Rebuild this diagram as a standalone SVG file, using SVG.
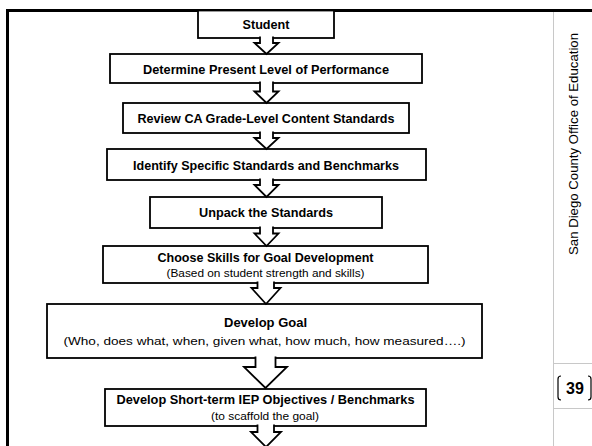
<svg xmlns="http://www.w3.org/2000/svg" width="592" height="446" viewBox="0 0 592 446">
<style>
.box{fill:#fff;stroke:#000;stroke-width:1.8}
.arr{fill:#fff;stroke:#000;stroke-width:1.8;stroke-linejoin:miter}
.b{font-family:"Liberation Sans",Arial,sans-serif;font-weight:bold;font-size:12.75px;text-anchor:middle;fill:#000}
.r{font-family:"Liberation Sans",Arial,sans-serif;font-size:11.8px;text-anchor:middle;fill:#000}
.gray{stroke:#c8c8c8;stroke-width:1;fill:none}
</style>
<rect x="0" y="0" width="592" height="446" fill="#fff"/>
<g id="frame">
<line class="gray" x1="553.5" y1="11" x2="553.5" y2="446"/>
<line class="gray" x1="553" y1="363.5" x2="592" y2="363.5"/>
<line class="gray" x1="553" y1="408.5" x2="592" y2="408.5"/>
<line x1="7.5" y1="9" x2="7.5" y2="446" stroke="#000" stroke-width="3"/>
<line x1="6" y1="10.5" x2="592" y2="10.5" stroke="#000" stroke-width="2.8"/>
</g>
<g id="side-label">
<text transform="translate(578,144) rotate(-90)" font-family="Liberation Sans,Arial,sans-serif" font-size="13" text-anchor="middle" textLength="222" lengthAdjust="spacingAndGlyphs">San Diego County Office of Education</text>
</g>
<g id="page-number">
<path d="M561,376 Q558,376 558,379 V397 Q558,400 561,400" fill="none" stroke="#000" stroke-width="1.2"/>
<path d="M588,376 Q591,376 591,379 V397 Q591,400 588,400" fill="none" stroke="#000" stroke-width="1.2"/>
<text x="575" y="394" font-family="Liberation Sans,Arial,sans-serif" font-weight="bold" font-size="16" text-anchor="middle">39</text>
</g>
<g id="n1"><rect class="box" x="198" y="10.5" width="136" height="27.5"/><text class="b" x="266" y="28.5" textLength="47" lengthAdjust="spacingAndGlyphs">Student</text></g>
<g id="n2"><rect class="box" x="110" y="54" width="312" height="29"/><text class="b" x="266" y="74" textLength="246" lengthAdjust="spacingAndGlyphs">Determine Present Level of Performance</text></g>
<g id="n3"><rect class="box" x="123" y="103" width="286" height="30"/><text class="b" x="266" y="123" textLength="257" lengthAdjust="spacingAndGlyphs">Review CA Grade-Level Content Standards</text></g>
<g id="n4"><rect class="box" x="107" y="149" width="319" height="31"/><text class="b" x="266" y="169.5" textLength="266" lengthAdjust="spacingAndGlyphs">Identify Specific Standards and Benchmarks</text></g>
<g id="n5"><rect class="box" x="150" y="197" width="232" height="31"/><text class="b" x="266" y="217" textLength="134" lengthAdjust="spacingAndGlyphs">Unpack the Standards</text></g>
<g id="n6"><rect class="box" x="103" y="246" width="325" height="37"/><text class="b" x="265.5" y="262" textLength="216" lengthAdjust="spacingAndGlyphs">Choose Skills for Goal Development</text><text class="r" x="265.5" y="277" textLength="198" lengthAdjust="spacingAndGlyphs">(Based on student strength and skills)</text></g>
<g id="n7"><rect class="box" x="47" y="304" width="435" height="54"/><text class="b" x="265.5" y="327" textLength="83" lengthAdjust="spacingAndGlyphs">Develop Goal</text><text class="r" x="264.5" y="345" font-size="13.5" textLength="402" lengthAdjust="spacingAndGlyphs">(Who, does what, when, given what, how much, how measured….)</text></g>
<g id="n8"><rect class="box" x="105" y="389" width="321" height="37"/><text class="b" x="265.5" y="404" textLength="298" lengthAdjust="spacingAndGlyphs">Develop Short-term IEP Objectives / Benchmarks</text><text class="r" x="265" y="420" textLength="108" lengthAdjust="spacingAndGlyphs">(to scaffold the goal)</text></g>
<g id="connectors">
<path class="arr" d="M260,36.5 V43 H254.5 L266.5,54 L278.5,43 H273 V36.5"/>
<path class="arr" d="M260,81.5 V91.5 H254.5 L266.5,103 L278.5,91.5 H273 V81.5"/>
<path class="arr" d="M260,131.5 V138 H254.5 L266.5,149 L278.5,138 H273 V131.5"/>
<path class="arr" d="M260,178.5 V185 H254.5 L266.5,197 L278.5,185 H273 V178.5"/>
<path class="arr" d="M260,226.5 V233.5 H254.5 L266.5,246 L278.5,233.5 H273 V226.5"/>
<path class="arr" d="M257.5,281.5 V288 H251.5 L266,304 L280.5,288 H274 V281.5"/>
<path class="arr" d="M255.5,356.5 V367 H244 L265.5,388 L287,367 H275.5 V356.5"/>
<path class="arr" d="M257.5,424.5 V432 H251 L266,447 L281,432 H274 V424.5"/>
</g>
</svg>
